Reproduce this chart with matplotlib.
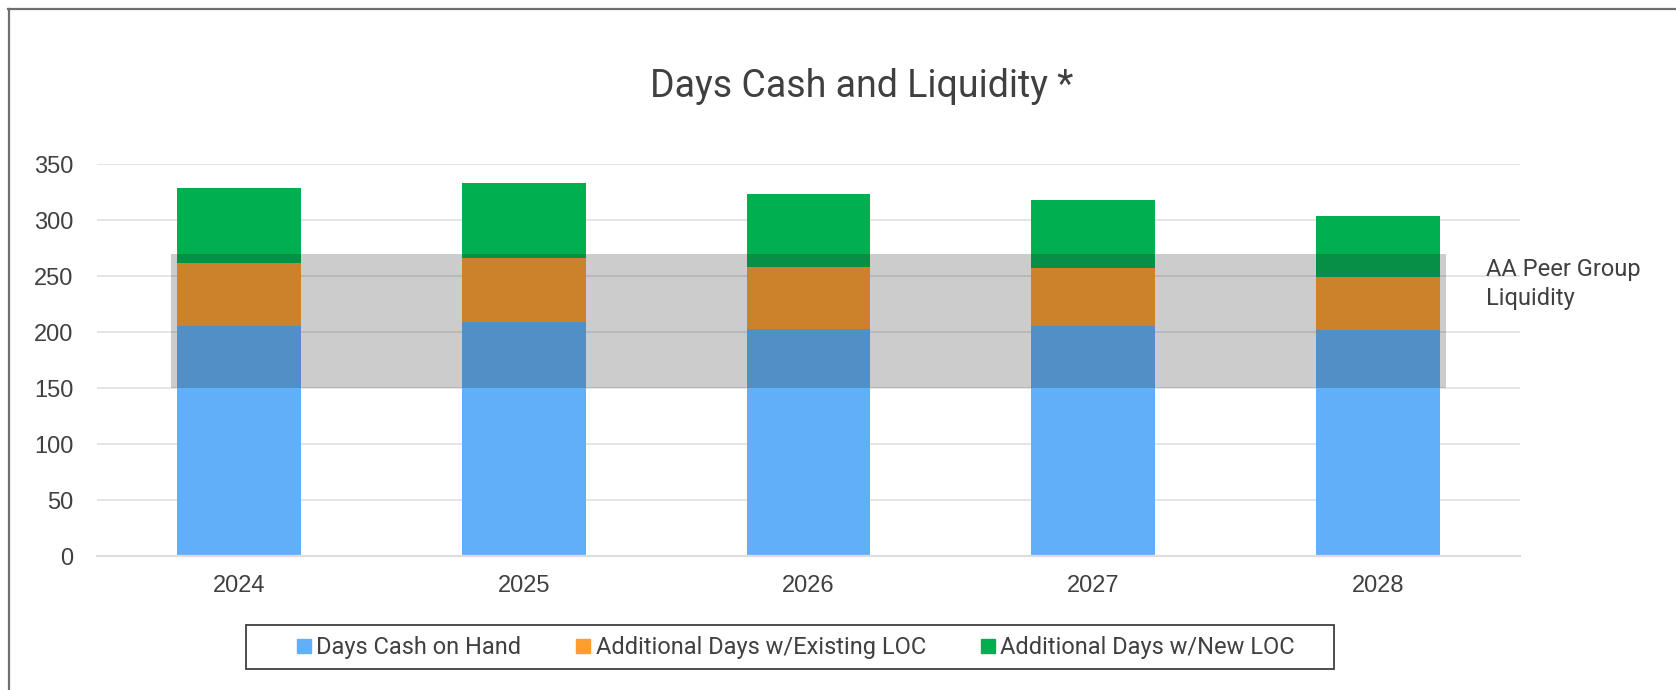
import matplotlib
matplotlib.use('Agg')
import matplotlib.pyplot as plt
from matplotlib.lines import Line2D
from matplotlib.patches import Rectangle
import numpy as np

years = ['2024', '2025', '2026', '2027', '2028']
cash_on_hand = [205, 209, 203, 205, 202]
existing_loc = [57, 57, 55, 52, 47]
new_loc = [67, 67, 65, 61, 55]
peer_low, peer_high = 150, 270

blue = '#62AFF9'
orange = '#FF9E2C'
green = '#00B050'
text_col = '#404040'

plt.rcParams['font.family'] = ['Roboto', 'DejaVu Sans']

fig = plt.figure(figsize=(16.76, 6.9), dpi=100)
ax = fig.add_axes([0.0579, 0.1942, 0.907 - 0.0579, 0.7623 - 0.1942])

x = np.arange(len(years))
w = 0.435
cash = np.array(cash_on_hand)
exist = np.array(existing_loc)
new = np.array(new_loc)
ax.bar(x, cash, w, color=blue, zorder=2)
ax.bar(x, exist, w, bottom=cash, color=orange, zorder=2)
ax.bar(x, new, w, bottom=cash + exist, color=green, zorder=2)

# peer group band drawn over the bars
ax.fill_between([-0.24, 4.24], peer_low, peer_high, color='#252525', alpha=0.23,
                linewidth=0, zorder=3)
ax.text(4.38, (peer_low + peer_high) / 2 + 33, 'AA Peer Group\nLiquidity', fontsize=17,
        color=text_col, va='center', ha='left', linespacing=1.35)

ax.set_xlim(-0.5, 4.5)
ax.set_ylim(0, 350)
ax.set_yticks(range(0, 351, 50))
ax.set_xticks(x)
ax.set_xticklabels(years)
ax.yaxis.grid(True, color='#E0E0E0', linewidth=1.2, zorder=0)
ax.set_axisbelow(True)
for s in ['top', 'right', 'left']:
    ax.spines[s].set_visible(False)
ax.spines['bottom'].set_color('#DDDDDD')
ax.spines['bottom'].set_linewidth(1.6)
ax.tick_params(axis='both', length=0, labelsize=17, colors=text_col)
ax.tick_params(axis='y', pad=17)
ax.tick_params(axis='x', pad=14)
for lab in ax.get_xticklabels() + ax.get_yticklabels():
    lab.set_family(['Liberation Sans', 'DejaVu Sans'])

fig.text(0.514, 0.860, 'Days Cash and Liquidity *', fontsize=27, color=text_col,
         ha='center', va='baseline')

handles = [Line2D([], [], marker='s', linestyle='none', markersize=9.4, color=c)
           for c in (blue, orange, green)]
labels = ['Days Cash on Hand', 'Additional Days w/Existing LOC', 'Additional Days w/New LOC']
leg = fig.legend(handles, labels, loc='center', bbox_to_anchor=(0.4751, 0.061), ncol=3,
                 fontsize=17, frameon=False, handlelength=0.55,
                 handletextpad=0.25, columnspacing=2.35, borderpad=0.45, borderaxespad=0)
for t in leg.get_texts():
    t.set_color(text_col)

# legend box is wider than the entries, so draw it by hand
fig.add_artist(Rectangle((0.1467, 0.0303), 0.6493, 0.0635, transform=fig.transFigure,
                         facecolor='none', edgecolor='#404040', linewidth=1.3))

# outer chart border (top and left)
fig.add_artist(Line2D([8 / 1676, 1], [1 - 9 / 690, 1 - 9 / 690], color='#707070', linewidth=1.6,
                      transform=fig.transFigure))
fig.add_artist(Line2D([9 / 1676, 9 / 1676], [0, 1 - 9 / 690], color='#707070', linewidth=1.6,
                      transform=fig.transFigure))

plt.savefig('out.png', dpi=100)
